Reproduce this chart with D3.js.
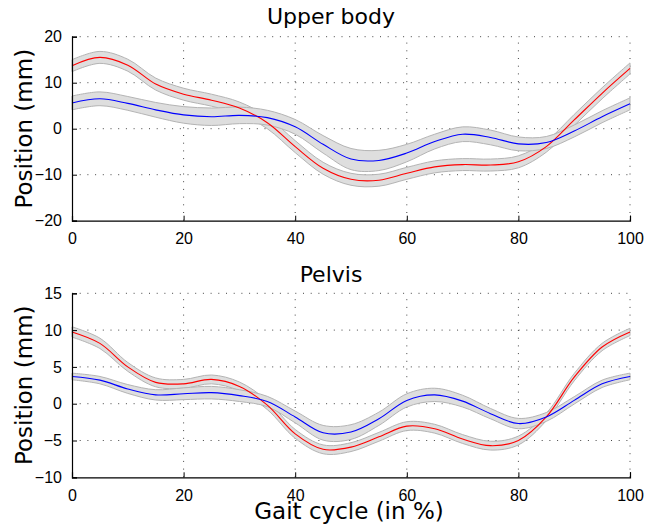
<!DOCTYPE html>
<html>
<head>
<meta charset="utf-8">
<script src="https://cdn.jsdelivr.net/npm/d3@7"></script>
<style>
  body { margin: 0; background: #fff; }
  svg { display: block; }
  .tick text { font-family: 'Liberation Sans', Arial, sans-serif; font-size: 16px; fill: #000; }
  .lbl { font-family: 'DejaVu Sans', sans-serif; fill: #000; }
</style>
</head>
<body>
<svg id="chart" width="646" height="531"></svg>
<script>
// gait cycle samples (%)
const gait = [0, 5, 10, 15, 20, 25, 30, 35, 40, 45, 50, 55, 60, 65, 70, 75, 80, 85, 90, 95, 100]

// upper body (mm)
const upperRed = [13.7, 15.5, 13.8, 9.7, 7.5, 6.2, 4.5, 1.3, -3.9, -8.6, -11.0, -11.2, -9.7, -8.3, -7.8, -7.9, -7.2, -3.9, 1.9, 7.7, 13.1]
const upperRedSd = [1.3, 1.3, 1.3, 1.3, 1.3, 1.3, 1.3, 1.3, 1.3, 1.3, 1.3, 1.3, 1.3, 1.3, 1.3, 1.3, 1.3, 1.2, 1.2, 1.2, 1.2]
const upperBlue = [5.6, 6.5, 5.5, 4.1, 3.0, 2.6, 2.9, 2.4, 0.4, -3.4, -6.6, -6.9, -5.3, -2.8, -1.2, -1.9, -3.3, -3.0, -0.5, 2.6, 5.4]
const upperBlueSd = [1.5, 1.5, 1.5, 1.6, 1.8, 1.9, 1.8, 1.6, 1.6, 1.9, 2.3, 2.2, 1.9, 1.6, 1.6, 1.6, 1.5, 1.3, 1.3, 1.3, 1.3]

// pelvis (mm)
const pelvisRed = [9.75, 8.2, 5.0, 2.9, 2.7, 3.3, 2.35, -0.2, -4.1, -6.2, -5.9, -4.5, -3.05, -3.4, -4.8, -5.7, -5.0, -1.8, 3.6, 7.7, 9.75]
const pelvisRedSd = [0.7, 0.7, 0.6, 0.6, 0.6, 0.6, 0.6, 0.6, 0.6, 0.6, 0.6, 0.6, 0.6, 0.6, 0.6, 0.6, 0.6, 0.5, 0.5, 0.5, 0.5]
const pelvisBlue = [3.7, 3.2, 2.0, 1.2, 1.35, 1.5, 1.1, 0.3, -1.8, -3.95, -3.85, -2.05, 0.45, 1.2, 0.35, -1.35, -2.7, -1.8, 0.45, 2.7, 3.7]
const pelvisBlueSd = [0.45, 0.5, 0.6, 0.7, 0.8, 0.85, 0.8, 0.7, 0.8, 1.0, 1.0, 0.9, 0.9, 0.9, 0.8, 0.7, 0.7, 0.6, 0.5, 0.5, 0.45]

const xTicks = [0, 20, 40, 60, 80, 100]
const upperTicks = [-20, -10, 0, 10, 20]
const pelvisTicks = [-10, -5, 0, 5, 10, 15]

const svg = d3.select('#chart')

const fmt = d => (d < 0 ? '\u2212' + Math.abs(d) : '' + d)

const drawPanel = (opt) => {
  const x = d3.scaleLinear().domain([0, 100]).range([72, 630])
  const y = d3.scaleLinear().domain(opt.domain).range([opt.bottom, opt.top])
  const g = svg.append('g')

  // dotted grid
  xTicks.filter(d => d > 0).forEach(d => {
    g.append('line').attr('x1', x(d)).attr('x2', x(d)).attr('y1', y.range()[0]).attr('y2', y.range()[1])
      .attr('stroke', '#444').attr('stroke-dasharray', '1,6.7')
  })
  opt.ticks.filter(d => d > opt.domain[0]).forEach(d => {
    g.append('line').attr('x1', x(0)).attr('x2', x(100)).attr('y1', y(d)).attr('y2', y(d))
      .attr('stroke', '#444').attr('stroke-dasharray', '1,6.7')
  })

  const band = (mean, sd) => d3.area()
    .x((d, i) => x(gait[i]))
    .y0((d, i) => y(mean[i] - sd[i]))
    .y1((d, i) => y(mean[i] + sd[i]))
    .curve(d3.curveCatmullRom)

  const line = d3.line()
    .x((d, i) => x(gait[i]))
    .y(d => y(d))
    .curve(d3.curveCatmullRom)

  opt.series.forEach(s => {
    g.append('path').datum(s.mean).attr('d', band(s.mean, s.sd))
      .attr('fill', '#dedede').attr('stroke', '#b4b4b4').attr('stroke-width', 1)
  })
  opt.series.forEach(s => {
    g.append('path').datum(s.mean).attr('d', line)
      .attr('fill', 'none').attr('stroke', s.color).attr('stroke-width', 1.1)
  })

  // axes
  const xAxis = g.append('g').attr('transform', `translate(0,${opt.bottom})`)
  xAxis.call(d3.axisBottom(x).tickValues(d3.range(0, 101, 2)).tickSize(-2).tickFormat(''))
  xAxis.call(d3.axisBottom(x).tickValues(xTicks).tickSize(-5).tickPadding(12).tickFormat(fmt))

  const yAxis = g.append('g').attr('transform', 'translate(72,0)')
  yAxis.call(d3.axisLeft(y).tickValues(d3.range(opt.domain[0], opt.domain[1] + 0.01, opt.minor)).tickSize(-2).tickFormat(''))
  yAxis.call(d3.axisLeft(y).tickValues(opt.ticks).tickSize(-5).tickPadding(10).tickFormat(fmt))
  g.selectAll('.domain').attr('stroke', '#000').attr('stroke-width', 1.2)
  g.selectAll('.tick line').attr('stroke', '#000')
  xAxis.selectAll('.tick text').attr('dy', '0.71em').attr('y', 12)

  g.append('text').attr('class', 'lbl').attr('x', 331).attr('y', opt.titleY)
    .attr('text-anchor', 'middle').attr('font-size', 22).text(opt.title)
  g.append('text').attr('class', 'lbl')
    .attr('transform', `translate(32,${(opt.top + opt.bottom) / 2}) rotate(-90)`)
    .attr('text-anchor', 'middle').attr('font-size', 23).text('Position (mm)')
}

drawPanel({
  title: 'Upper body', titleY: 24, domain: [-20, 20], top: 36.7, bottom: 220.7, ticks: upperTicks, minor: 2,
  series: [{ mean: upperRed, sd: upperRedSd, color: '#ff0000' }, { mean: upperBlue, sd: upperBlueSd, color: '#0000ff' }]
})
drawPanel({
  title: 'Pelvis', titleY: 282, domain: [-10, 15], top: 293.3, bottom: 477.3, ticks: pelvisTicks, minor: 1,
  series: [{ mean: pelvisRed, sd: pelvisRedSd, color: '#ff0000' }, { mean: pelvisBlue, sd: pelvisBlueSd, color: '#0000ff' }]
})

svg.append('text').attr('class', 'lbl').attr('x', 349).attr('y', 519)
  .attr('text-anchor', 'middle').attr('font-size', 23).text('Gait cycle (in %)')
</script>
</body>
</html>
